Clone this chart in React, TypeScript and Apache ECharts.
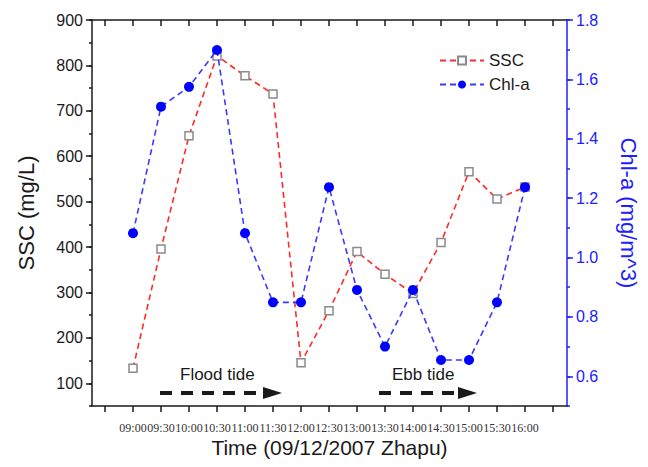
import React, { useEffect, useRef } from "react";
import * as echarts from "echarts";

const times = ["09:00", "09:30", "10:00", "10:30", "11:00", "11:30", "12:00", "12:30", "13:00", "13:30", "14:00", "14:30", "15:00", "15:30", "16:00"];
const sscValues = [133, 396, 645, 821, 777, 737, 145, 260, 390, 340, 298, 410, 566, 506, 532];
const chlValues = [1.082, 1.508, 1.575, 1.699, 1.082, 0.849, 0.849, 1.237, 0.891, 0.7, 0.891, 0.655, 0.655, 0.849, 1.237];
const annotations = ["Flood tide", "Ebb tide"];

const toHours = (t: string) => {
  const [h, m] = t.split(":").map(Number);
  return h + m / 60;
};
const fmtTime = (v: number) => {
  const h = Math.floor(v + 1e-6);
  const m = Math.round((v - h) * 60);
  return String(h).padStart(2, "0") + ":" + String(m).padStart(2, "0");
};

export default function App() {
  const ref = useRef<HTMLDivElement>(null);
  useEffect(() => {
    if (!ref.current) return;
    const chart = echarts.init(ref.current, null, { renderer: "svg" });
    const L = 92, R = 567, T = 20, B = 406;
    const H = B - T;
    const sscPx = H / (900 - 50);
    const chlPx = H / (1.8 - 0.5);
    const xPx = 56; // px per hour
    const x0 = 105; // 08:30
    const sans = "Liberation Sans, Arial, sans-serif";
    const black = "#1a1a1a";
    const blue = "#2020ff";
    const hidden = {
      type: "value", min: 0, max: 1, show: false,
      axisLine: { show: false, onZero: false }, axisTick: { show: false }, axisLabel: { show: false }, splitLine: { show: false },
    };
    chart.setOption({
      animation: false,
      backgroundColor: "#ffffff",
      grid: [
        { left: L, top: T, width: R - L, height: H, containLabel: false },
        { left: x0, top: T, width: 16 * xPx / 2, height: H, containLabel: false },
        { left: L, top: T, width: R - L, height: (900 - 100) * sscPx, containLabel: false },
        { left: L, top: T, width: R - L, height: (1.8 - 0.6) * chlPx, containLabel: false },
      ],
      xAxis: [
        {
          gridIndex: 0, type: "value", position: "bottom",
          min: 8.5 - (x0 - L) / xPx, max: 16.5 + (R - (x0 + 16 * xPx / 2)) / xPx,
          axisLine: { show: true, onZero: false, lineStyle: { color: black, width: 1.5 } },
          axisTick: { show: false }, axisLabel: { show: false }, splitLine: { show: false },
          name: "Time (09/12/2007 Zhapu)", nameLocation: "middle", nameGap: 31,
          nameTextStyle: { fontFamily: sans, fontSize: 21, color: black },
        },
        {
          gridIndex: 0, type: "value", position: "top",
          min: 8.5 - (x0 - L) / xPx, max: 16.5 + (R - (x0 + 16 * xPx / 2)) / xPx,
          axisLine: { show: true, onZero: false, lineStyle: { color: black, width: 1.5 } },
          axisTick: { show: false }, axisLabel: { show: false }, splitLine: { show: false },
        },
        {
          gridIndex: 1, type: "value", position: "bottom", min: 8.5, max: 16.5, interval: 0.5,
          axisLine: { show: false, onZero: false, lineStyle: { color: black } },
          axisTick: { show: true, inside: false, length: 6, lineStyle: { color: black, width: 1.5 } },
          axisLabel: {
            show: true, margin: 16, hideOverlap: false, showMinLabel: true, showMaxLabel: true,
            fontFamily: "Liberation Serif, Times New Roman, serif", fontSize: 12, color: "#333333",
            formatter: (v: number) => (v < 8.99 || v > 16.01 ? "" : fmtTime(v)),
          },
          splitLine: { show: false },
        },
        {
          gridIndex: 1, type: "value", position: "top", min: 8.5, max: 16.5, interval: 0.5,
          axisLine: { show: false, onZero: false, lineStyle: { color: black } },
          axisTick: { show: true, inside: true, length: 6, lineStyle: { color: black, width: 1.5 } },
          axisLabel: { show: false }, splitLine: { show: false },
        },
        { ...hidden, gridIndex: 2 },
        { ...hidden, gridIndex: 3 },
      ],
      yAxis: [
        {
          gridIndex: 0, type: "value", position: "left", min: 50, max: 900, interval: 50,
          axisLine: { show: true, onZero: false, lineStyle: { color: black, width: 1.5 } },
          axisTick: { show: true, length: 3, lineStyle: { color: black, width: 1.5 } },
          axisLabel: { show: false }, splitLine: { show: false },
          name: "SSC (mg/L)", nameLocation: "middle", nameGap: 55,
          nameTextStyle: { fontFamily: sans, fontSize: 22, color: black },
        },
        {
          gridIndex: 0, type: "value", position: "right", min: 0.5, max: 1.8, interval: 0.1,
          axisLine: { show: true, onZero: false, lineStyle: { color: blue, width: 1.5 } },
          axisTick: { show: true, length: 3, lineStyle: { color: blue, width: 1.5 } },
          axisLabel: { show: false }, splitLine: { show: false },
          name: "Chl-a (mg/m^3)", nameLocation: "middle", nameGap: 50, nameRotate: -90,
          nameTextStyle: { fontFamily: sans, fontSize: 22, color: blue },
        },
        {
          gridIndex: 2, type: "value", position: "left", min: 100, max: 900, interval: 100,
          axisLine: { show: false, onZero: false, lineStyle: { color: black } },
          axisTick: { show: true, length: 6, lineStyle: { color: black, width: 1.5 } },
          axisLabel: { show: true, margin: 9, fontFamily: sans, fontSize: 16, color: black },
          splitLine: { show: false },
        },
        {
          gridIndex: 3, type: "value", position: "right", min: 0.6, max: 1.8, interval: 0.2,
          axisLine: { show: false, onZero: false, lineStyle: { color: blue } },
          axisTick: { show: true, length: 6, lineStyle: { color: blue, width: 1.5 } },
          axisLabel: {
            show: true, margin: 9, fontFamily: sans, fontSize: 16, color: blue,
            formatter: (v: number) => v.toFixed(1),
          },
          splitLine: { show: false },
        },
        { ...hidden, gridIndex: 1 },
      ],
      legend: {
        orient: "vertical", left: 434, top: 47, itemWidth: 44, itemHeight: 10, itemGap: 7,
        textStyle: { fontFamily: sans, fontSize: 17, color: black },
        data: ["SSC", "Chl-a"],
      },
      series: [
        {
          name: "SSC", type: "line", xAxisIndex: 0, yAxisIndex: 0,
          data: times.map((t, i) => [toHours(t), sscValues[i]]),
          symbol: "rect", symbolSize: 8, showAllSymbol: true,
          itemStyle: { color: "#ffffff", borderColor: "#8a8a8a", borderWidth: 1.5 },
          lineStyle: { color: "#ff2a2a", width: 1.6, type: [6, 4] },
          z: 2,
        },
        {
          name: "Chl-a", type: "line", xAxisIndex: 0, yAxisIndex: 1,
          data: times.map((t, i) => [toHours(t), chlValues[i]]),
          symbol: "circle", symbolSize: 10, showAllSymbol: true,
          itemStyle: { color: "#0000ff", borderWidth: 0 },
          lineStyle: { color: "#3a3aff", width: 1.6, type: [6, 4] },
          z: 3,
        },
      ],
      graphic: [
        { type: "text", left: 180, top: 366, style: { text: annotations[0], font: `17px ${sans}`, fill: black } },
        { type: "text", left: 392, top: 366, style: { text: annotations[1], font: `17px ${sans}`, fill: black } },
        { type: "line", shape: { x1: 160, y1: 393, x2: 268, y2: 393 }, style: { stroke: black, lineWidth: 4, lineDash: [12, 9] } },
        { type: "polygon", shape: { points: [[263, 387], [282, 393], [263, 399]] }, style: { fill: black } },
        { type: "line", shape: { x1: 379, y1: 393, x2: 463, y2: 393 }, style: { stroke: black, lineWidth: 4, lineDash: [12, 9] } },
        { type: "polygon", shape: { points: [[458, 387], [477, 393], [458, 399]] }, style: { fill: black } },
      ],
    });
    return () => chart.dispose();
  }, []);
  return <div ref={ref} style={{ position: "fixed", left: 0, top: 0, width: 648, height: 467 }} />;
}
